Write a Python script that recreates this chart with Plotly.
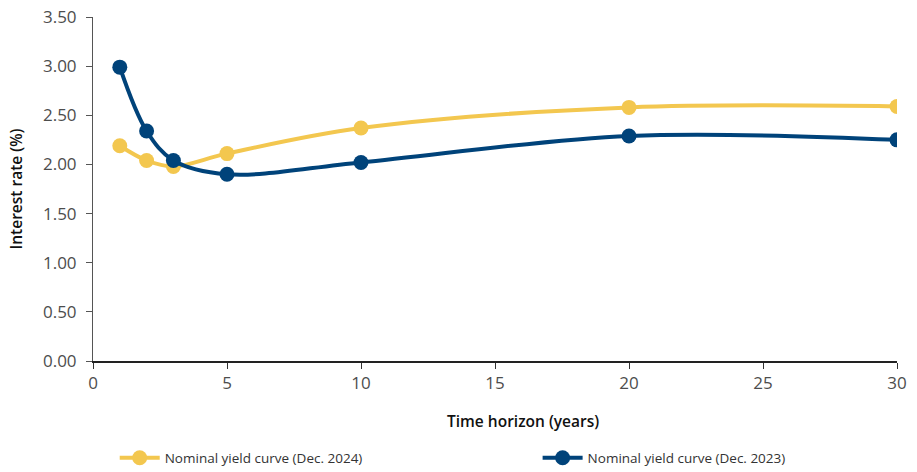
import plotly.graph_objects as go

years = [1, 2, 3, 5, 10, 20, 30]
yield_2024 = [2.19, 2.04, 1.98, 2.11, 2.37, 2.58, 2.59]
yield_2023 = [2.99, 2.34, 2.04, 1.90, 2.02, 2.29, 2.25]
name_2024 = "Nominal yield curve (Dec. 2024)"
name_2023 = "Nominal yield curve (Dec. 2023)"
y_ticks = [0, 0.5, 1, 1.5, 2, 2.5, 3, 3.5]
x_ticks = [0, 5, 10, 15, 20, 25, 30]
x_title = "Time horizon (years)"
y_title = "Interest rate (%)"

YELLOW = "#F3C74F"
BLUE = "#00437A"

fig = go.Figure()
fig.add_trace(go.Scatter(
    x=years, y=yield_2024, name=name_2024, mode="lines+markers",
    line=dict(color=YELLOW, width=4, shape="spline", smoothing=1.0),
    marker=dict(color=YELLOW, size=15), legend="legend",
))
fig.add_trace(go.Scatter(
    x=years, y=yield_2023, name=name_2023, mode="lines+markers",
    line=dict(color=BLUE, width=4, shape="spline", smoothing=1.0),
    marker=dict(color=BLUE, size=15), legend="legend2",
))

tick_font = dict(family="Open Sans", size=17, color="#4d4d4d")
title_font = dict(family="Open Sans", size=15.5, color="#111111", weight=600)
legend_font = dict(family="Open Sans", size=13.5, color="#333333")
fig.update_layout(
    width=917, height=472,
    margin=dict(l=93, r=20, t=17, b=111, autoexpand=False),
    plot_bgcolor="white", paper_bgcolor="white",
    font=dict(family="Open Sans", color="#222222"),
    showlegend=True,
    legend=dict(
        orientation="h", x=0.027, xanchor="left", y=-0.282, yanchor="middle",
        font=legend_font, itemwidth=40, bgcolor="rgba(0,0,0,0)",
    ),
    legend2=dict(
        orientation="h", x=0.553, xanchor="left", y=-0.282, yanchor="middle",
        font=legend_font, itemwidth=40, bgcolor="rgba(0,0,0,0)",
    ),
    xaxis=dict(
        range=[0, 30], tickvals=x_ticks, ticks="outside", ticklen=6,
        tickcolor="#333333", showline=True, linecolor="#222222", linewidth=1.5,
        showgrid=False, zeroline=False, tickfont=tick_font,
    ),
    yaxis=dict(
        range=[0, 3.5], tickvals=y_ticks, tickformat=".2f", ticks="outside", ticklen=6,
        tickcolor="#555555", showline=True, linecolor="#555555", linewidth=1,
        showgrid=False, zeroline=False, tickfont=tick_font, ticklabelstandoff=6,
        title=dict(text=y_title, font=title_font, standoff=16),
    ),
    annotations=[dict(
        text=x_title, xref="paper", yref="paper", x=0.535, y=-0.174,
        xanchor="center", yanchor="middle", showarrow=False, font=title_font,
    )],
)

fig.write_html("out.html")
